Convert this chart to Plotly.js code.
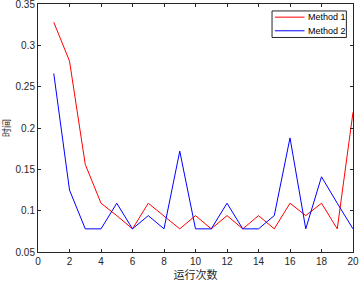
<!DOCTYPE html>
<html><head><meta charset="utf-8">
<script src="https://cdn.plot.ly/plotly-3.0.1.min.js"></script>
<style>html,body{margin:0;padding:0;background:#fff;}#chart{width:360px;height:282px;}</style>
</head><body><div id="chart"></div>
<script>
const runs = [1,2,3,4,5,6,7,8,9,10,11,12,13,14,15,16,17,18,19,20];
const method1 = [0.328,0.281,0.156,0.109,0.094,0.078,0.109,0.094,0.078,0.094,0.078,0.094,0.078,0.094,0.078,0.109,0.094,0.109,0.078,0.219];
const method2 = [0.266,0.125,0.078,0.078,0.109,0.078,0.094,0.078,0.172,0.078,0.078,0.109,0.078,0.078,0.094,0.188,0.078,0.141,0.109,0.078];
const seriesNames = ['Method 1','Method 2'];
const seriesColors = ['#ff0000','#0000ff'];
const xTicks = [0,2,4,6,8,10,12,14,16,18,20];
const yTicks = [0.05,0.1,0.15,0.2,0.25,0.3,0.35];
const yTickText = ['0.05','0.1','0.15','0.2','0.25','0.3','0.35'];

const font = {family:'Liberation Sans, Arial, sans-serif', size:10, color:'#262626'};
const traces = [
  {x:runs, y:method1, name:seriesNames[0], type:'scatter', mode:'lines', line:{color:seriesColors[0], width:1}},
  {x:runs, y:method2, name:seriesNames[1], type:'scatter', mode:'lines', line:{color:seriesColors[1], width:1}}
];
const axisCommon = {showgrid:false, zeroline:false, showline:true, mirror:'ticks', linecolor:'#262626', linewidth:1,
  ticks:'inside', ticklen:3, tickcolor:'#262626', tickfont:font, ticklabeloverflow:'allow'};

// manual MATLAB-style legend (paper coords relative to plot area)
const L = {x0:0.743, x1:0.979, yTop:0.972, yBot:0.865, lx0:0.752, lx1:0.846, tx:0.850, rows:[0.947, 0.892]};
const shapes = [{type:'rect', xref:'paper', yref:'paper', x0:L.x0, x1:L.x1, y0:L.yBot, y1:L.yTop,
  line:{color:'#262626', width:1}, fillcolor:'#fff', layer:'above'}];
const annotations = [];
seriesNames.forEach((n,i)=>{
  shapes.push({type:'line', xref:'paper', yref:'paper', x0:L.lx0, x1:L.lx1, y0:L.rows[i], y1:L.rows[i],
    line:{color:seriesColors[i], width:1}, layer:'above'});
  annotations.push({xref:'paper', yref:'paper', x:L.tx, y:L.rows[i], xanchor:'left', yanchor:'middle',
    text:n, showarrow:false, font:{family:'Liberation Sans, Arial, sans-serif', size:9, color:'#000'}});
});

const layout = {
  width:360, height:282,
  margin:{l:38, r:7, t:4, b:30},
  paper_bgcolor:'#fff', plot_bgcolor:'#fff',
  font:font,
  showlegend:false,
  shapes:shapes, annotations:annotations,
  xaxis:Object.assign({}, axisCommon, {range:[0,20], tickvals:xTicks,
    title:{text:'运行次数', font:{family:'Noto Sans CJK SC, sans-serif', size:11, color:'#262626'}, standoff:3}}),
  yaxis:Object.assign({}, axisCommon, {range:[0.05,0.35], tickvals:yTicks, ticktext:yTickText,
    title:{text:'时间', font:{family:'Noto Sans CJK SC, sans-serif', size:9, color:'#262626'}, standoff:4}})
};
Plotly.newPlot('chart', traces, layout, {displayModeBar:false, staticPlot:true});
</script></body></html>
